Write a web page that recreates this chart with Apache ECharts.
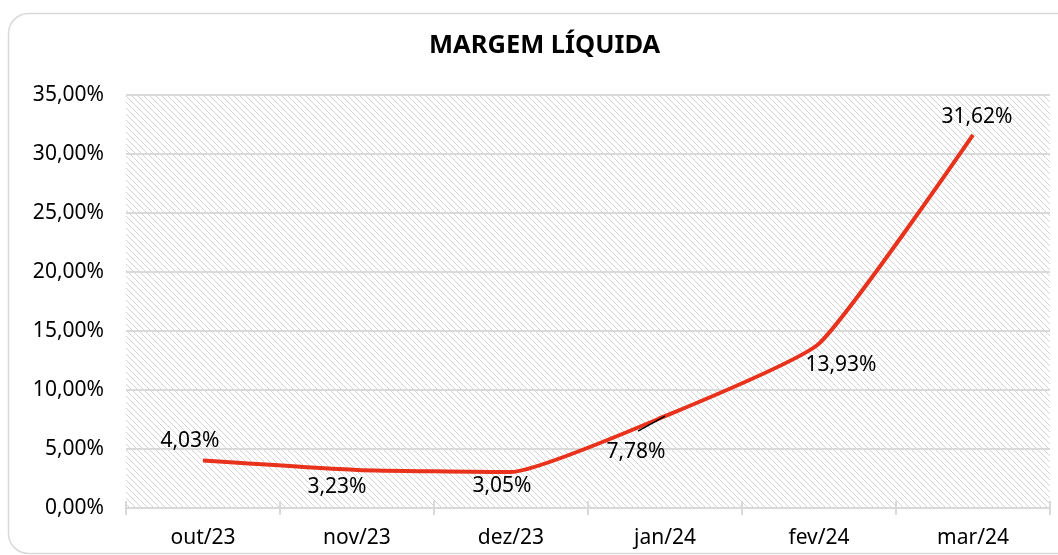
<!DOCTYPE html>
<html><head><meta charset="utf-8">
<script src="https://cdn.jsdelivr.net/npm/echarts@6/dist/echarts.min.js"></script>
<style>html,body{margin:0;padding:0;background:#fff}#c{width:1058px;height:555px}</style>
</head><body><div id="c"></div>
<script>
const categories = ['out/23','nov/23','dez/23','jan/24','fev/24','mar/24'];
const margemLiquida = [4.03, 3.23, 3.05, 7.78, 13.93, 31.62];
const yTicks = [0, 5, 10, 15, 20, 25, 30, 35];

const fmt = v => v.toFixed(2).replace('.', ',') + '%';

// hatch pattern
const pc = document.createElement('canvas');
pc.width = 6; pc.height = 6;
const g = pc.getContext('2d');
g.fillStyle = '#ffffff'; g.fillRect(0,0,6,6);
g.strokeStyle = '#d4d4d4'; g.lineWidth = 1;
g.beginPath();
g.moveTo(-1,-1); g.lineTo(7,7);
g.moveTo(-4,2); g.lineTo(4,10);
g.moveTo(2,-4); g.lineTo(10,4);
g.stroke();

const FONT = '"Noto Sans", "Open Sans", sans-serif';
const labelCfg = [
  {position:'top', distance:8},
  {position:'bottom', distance:6},
  {position:'bottom', distance:3},
  {position:'bottom', distance:3},
  {position:'bottom', distance:6},
  {position:'top', distance:5}
];
const labelShift = [[-13,0],[-20,0],[-9,0],[-29,22],[22,4],[4,-2]];
const leaderIndex = 3;
const seriesData = margemLiquida.map((v,i)=>({ value: v, label: labelCfg[i] }));

const chart = echarts.init(document.getElementById('c'), null, {renderer:'canvas'});
chart.setOption({
  animation:false,
  backgroundColor:'#fff',
  title:{text:'MARGEM LÍQUIDA', left:424, top:28,
    textStyle:{fontFamily:FONT, fontSize:25.5, fontWeight:'bold', color:'#000'}},
  graphic:[{type:'rect', shape:{x:8.5,y:13.5,width:1080,height:540,r:20},
    style:{fill:'none', stroke:'#d9d9d9', lineWidth:1.5}, z:-1}],
  grid:{left:126, right:8, top:95, bottom:47, show:true, borderWidth:0,
    backgroundColor:{image:pc, repeat:'repeat'}},
  xAxis:[{type:'category', data:categories, boundaryGap:true,
    axisLine:{lineStyle:{color:'#d9d9d9', width:2}},
    axisTick:{show:true, length:7, lineStyle:{color:'#d9d9d9', width:2}},
    axisLabel:{fontFamily:FONT, fontSize:21, color:'#000', margin:20}},
   {type:'category', data:categories, boundaryGap:true, position:'bottom',
    axisLine:{show:false}, axisLabel:{show:false},
    axisTick:{show:true, inside:true, length:7, lineStyle:{color:'#d9d9d9', width:2}}}],
  yAxis:{type:'value', min:yTicks[0], max:yTicks[yTicks.length-1], interval:5,
    axisLine:{show:false}, axisTick:{show:false},
    splitLine:{lineStyle:{color:'#d9d9d9', width:2}},
    axisLabel:{fontFamily:FONT, fontSize:21, color:'#000', margin:22,
      formatter: v => fmt(v)}},
  series:[
   {type:'line', z:2, data:seriesData, smooth:0.15, symbol:'circle', symbolSize:1,
    showSymbol:true,
    itemStyle:{color:'rgba(0,0,0,0)', borderWidth:0},
    lineStyle:{color:'#e8321c', width:4},
    label:{show:true, fontFamily:FONT, fontSize:21, color:'#000',
      formatter: p => fmt(p.value)},
    labelLayout: p => ({dx: labelShift[p.dataIndex][0], dy: labelShift[p.dataIndex][1]})},
   {type:'custom', z:10,
    data:[[leaderIndex, margemLiquida[leaderIndex]]],
    renderItem:(params, api) => {
      const c = api.coord([api.value(0), api.value(1)]);
      return {type:'line', z2:100, shape:{x1:c[0]-27, y1:c[1]+15, x2:c[0], y2:c[1]},
        style:{stroke:'#000', lineWidth:1.5}};
    }}]
});
</script></body></html>
